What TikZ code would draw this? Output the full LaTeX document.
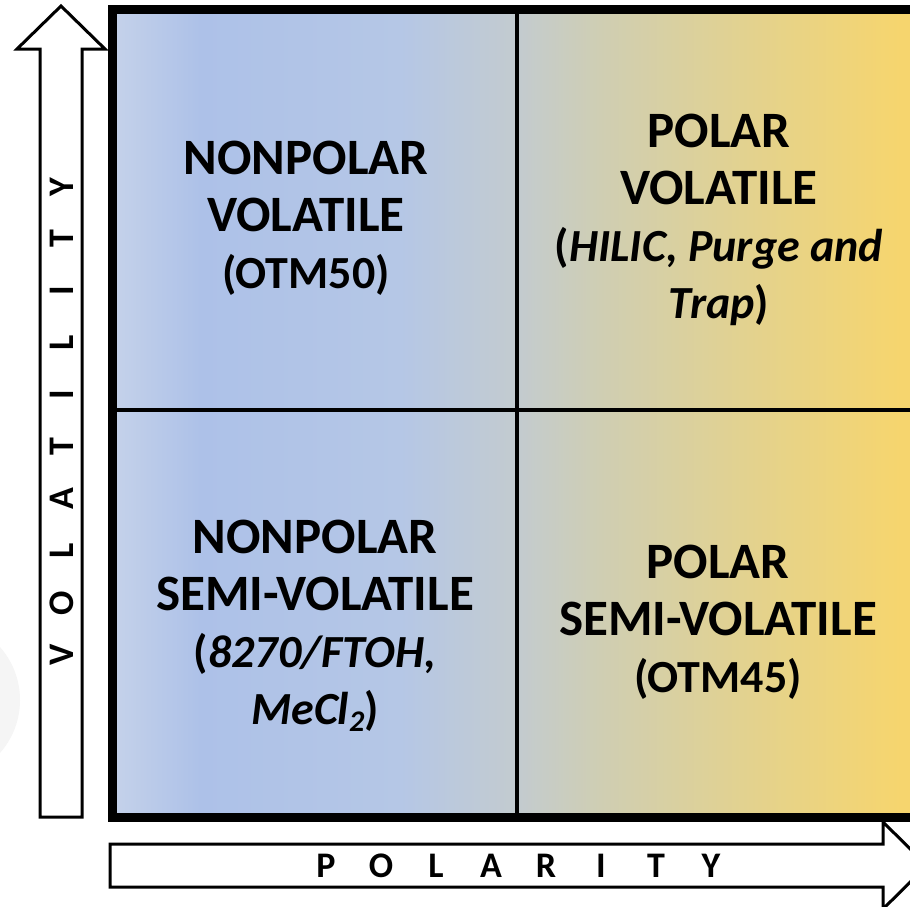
\documentclass[tikz,border=0pt]{standalone}
\usepackage{fontspec}
\setmainfont{Carlito}
\pgfdeclarehorizontalshading{quadshade}{100bp}{color(0bp)=(rgb,255:red,197;green,210;blue,234); color(25bp)=(rgb,255:red,197;green,210;blue,234); color(30.4bp)=(rgb,255:red,173;green,193;blue,232); color(42.6bp)=(rgb,255:red,181;green,199;blue,230); color(49.8bp)=(rgb,255:red,195;green,203;blue,207); color(54.8bp)=(rgb,255:red,207;green,206;blue,179); color(64bp)=(rgb,255:red,227;green,210;blue,142); color(73.2bp)=(rgb,255:red,246;green,213;blue,110); color(100bp)=(rgb,255:red,248;green,214;blue,107)}
\newcommand{\smalltxt}{\fontsize{46}{57}\selectfont}
\tikzset{
  quadtext/.style={font=\fontsize{51}{57}\selectfont\bfseries, align=center, text=black},
  axisletter/.style={font=\fontsize{36}{36}\selectfont\bfseries, text=black},
  bigarrow/.style={draw=black, line width=3pt, fill=white, line join=miter},
  frame/.style={draw=black, line width=9pt},
  divider/.style={draw=black, line width=4.5pt}
}
\begin{document}
\begin{tikzpicture}[x=1pt,y=-1pt]
\useasboundingbox[clip] (0,0) rectangle (910,906);
\fill[white] (0,0) rectangle (910,906);
\fill[gray!8] (-60,700) circle (80);
% main box
\shade[shading=quadshade] (112,9.5) rectangle (930,817.5);
\draw[frame] (112,9.5) rectangle (930,817.5);
\coordinate (vtop) at (517,9.5);
\coordinate (vbot) at (517,817.5);
\coordinate (hleft) at (112,410);
\coordinate (hright) at (930,410);
\draw[divider] (vtop) -- (vbot);
\draw[divider] (hleft) -- (hright);
% up arrow
\draw[bigarrow] (40,817) -- (40,49) -- (17,49) -- (61,6) -- (105,49) -- (82,49) -- (82,817) -- cycle;
% right arrow
\draw[bigarrow] (110,844) -- (883,844) -- (883,822) -- (927,865.5) -- (883,909) -- (883,887) -- (110,887) -- cycle;
% quadrant texts
\node[quadtext] (tl) at (306,218) {NONPOLAR\\VOLATILE\\{\smalltxt(OTM50)}};
\node[quadtext] (tr) at (719,220) {POLAR\\VOLATILE\\{\smalltxt(\textit{HILIC, Purge and}}\\{\smalltxt\textit{Trap})}};
\node[quadtext] (bl) at (315,626) {NONPOLAR\\SEMI-VOLATILE\\{\smalltxt(\textit{8270/FTOH,}}\\{\smalltxt\textit{MeCl\raisebox{-0.3ex}{\fontsize{30}{30}\selectfont 2}})}};
\node[quadtext] (br) at (718,622) {POLAR\\SEMI-VOLATILE\\{\smalltxt(OTM45)}};
% axis labels
\foreach \ch [count=\i from 0] in {V,O,L,A,T,I,L,I,T,Y} {
  \node[axisletter, rotate=90] (v\i) at (62,655-\i*52) {\ch};
}
\foreach \ch [count=\i from 0] in {P,O,L,A,R,I,T,Y} {
  \node[axisletter] (p\i) at (326+\i*55,866) {\ch};
}
\end{tikzpicture}
\end{document}
